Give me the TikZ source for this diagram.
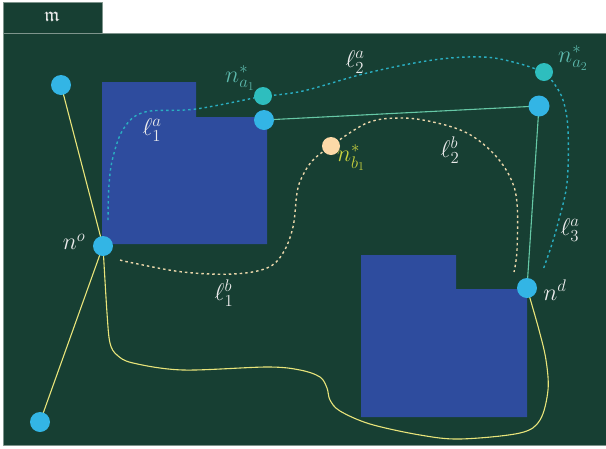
\RequirePackage{fix-cm}
\documentclass[tikz,border=0pt]{standalone}
\usepackage{amssymb}
\definecolor{boardc}{HTML}{173F33}
\definecolor{framec}{HTML}{7E948C}
\definecolor{blockc}{HTML}{2E4C9E}
\definecolor{hubc}{HTML}{33B5E5}
\definecolor{wayc}{HTML}{2EBEBE}
\definecolor{peachc}{HTML}{FDD9A8}
\definecolor{roadc}{HTML}{E8E47A}
\definecolor{linkc}{HTML}{66C8A6}
\definecolor{trailc}{HTML}{2AAFC2}
\definecolor{sandc}{HTML}{E9D6AA}
\definecolor{tagc}{HTML}{5CB8AC}
\definecolor{goldc}{HTML}{C9D23E}
\begin{document}
\begin{tikzpicture}[x=1pt, y=-1pt, line join=round, line cap=round,
    font=\fontsize{24}{28}\selectfont,
    hub/.style={circle, fill=hubc, minimum size=20pt, inner sep=0pt},
    way/.style={circle, fill=wayc, minimum size=18pt, inner sep=0pt},
    lab/.style={text=white!92!black, inner sep=1pt},
    trail/.style={draw=trailc, line width=1.4pt, line cap=butt, dash pattern=on 2.5pt off 3pt},
    sand/.style={draw=sandc, line width=1.4pt, line cap=butt, dash pattern=on 2.5pt off 3pt}]
  \useasboundingbox (0,0) rectangle (606,448);
  \fill[white] (0,0) rectangle (606,448);
  \draw[framec, fill=boardc, line width=0.8pt] (3,2) rectangle (102,33);
  \draw[framec, fill=boardc, line width=0.8pt] (3,33) rectangle (607,445);
  \node[text=white!92!black, font=\fontsize{20}{24}\selectfont] (tab) at (52,17) {$\mathfrak{m}$};
  \fill[blockc] (102,82) -- (196,82) -- (196,117) -- (267,117) -- (267,244) -- (102,244) -- cycle;
  \fill[blockc] (361,255) -- (456,255) -- (456,289) -- (527,289) -- (527,417) -- (361,417) -- cycle;
  \coordinate (tl) at (61,85);
  \coordinate (no) at (103,246);
  \coordinate (bl) at (40,422);
  \coordinate (nu) at (264,120);
  \coordinate (nr) at (539,106);
  \coordinate (nd) at (527,288);
  \coordinate (na1) at (263,96);
  \coordinate (na2) at (544,72);
  \coordinate (nb1) at (331,146);
  \coordinate (ta) at (108,220);
  \coordinate (te) at (543,270);
  \coordinate (sa) at (120,260);
  \coordinate (se) at (514,272);
  \draw[roadc, line width=1.1pt] (tl) -- (no) -- (bl);
  \draw[roadc, line width=1.1pt] plot[smooth, tension=0.55] coordinates {(no) (107,313) (110,343) (117,355) (133,363) (183,370) (267,367) (300,370) (320,377) (327,388) (330,400) (340,411) (370,424) (420,435) (460,439) (520,433) (540,420) (548,390) (546,360) (539,330) (nd)};
  \draw[linkc, line width=1.1pt] (nu) -- (nr) -- (nd);
  \draw[trail] plot[smooth, tension=0.6] coordinates {(ta) (109,185) (113,157) (124,128) (145,112) (196,109) (na1)};
  \draw[trail] plot[smooth, tension=0.6] coordinates {(na1) (303,91) (367,73) (433,60) (483,57) (517,63) (na2)};
  \draw[trail] plot[smooth, tension=0.6] coordinates {(na2) (553,82) (563,100) (568,130) (567,183) (558,223) (551,247) (te)};
  \draw[sand] plot[smooth, tension=0.6] coordinates {(sa) (133,263) (183,272) (233,274) (267,268) (283,253) (293,227) (297,193) (302,177) (313,160) (nb1)};
  \draw[sand] plot[smooth, tension=0.6] coordinates {(nb1) (367,123) (400,118) (433,122) (467,133) (493,153) (510,177) (517,203) (517,250) (se)};
  \node[hub] (tln) at (tl) {};
  \node[hub] (non) at (no) {};
  \node[hub] (bln) at (bl) {};
  \node[hub] (nun) at (nu) {};
  \node[hub, minimum size=21pt] (nrn) at (nr) {};
  \node[hub] (ndn) at (nd) {};
  \node[way] (na1n) at (na1) {};
  \node[way] (na2n) at (na2) {};
  \node[way, fill=peachc] (nb1n) at (nb1) {};
  \node[lab] (lno) at (74,242) {$n^o$};
  \node[lab] (lnd) at (555,290) {$n^d$};
  \node[text=tagc] (lna1) at (240,78) {$n^*_{a_1}$};
  \node[text=tagc] (lna2) at (573,58) {$n^*_{a_2}$};
  \node[text=goldc] (lnb1) at (351,158) {$n^*_{b_1}$};
  \node[lab] (lt1) at (152,130) {$\ell^a_1$};
  \node[lab] (lt2) at (355,62) {$\ell^a_2$};
  \node[lab] (lt3) at (570,230) {$\ell^a_3$};
  \node[lab] (ls1) at (224,293) {$\ell^b_1$};
  \node[lab] (ls2) at (450,150) {$\ell^b_2$};
\end{tikzpicture}
\end{document}
